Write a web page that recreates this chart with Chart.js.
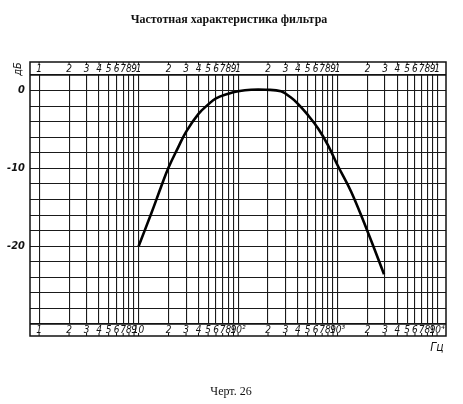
<!DOCTYPE html>
<html>
<head>
<meta charset="utf-8">
<script src="https://cdn.jsdelivr.net/npm/chart.js@4.4.1/dist/chart.umd.min.js"></script>
<style>
  body { margin: 0; background: #fff; }
  canvas { display: block; }
</style>
</head>
<body>
<canvas id="grafico" width="463" height="404"></canvas>
<script>
// частота, Гц
var freq = [10, 13.4, 16.8, 20, 25, 30, 40, 50, 60, 80, 100, 135, 190, 270, 340, 400, 500, 640, 800, 1000, 1370, 2030, 2930];
// уровень, дБ
var gain = [-20, -15.8, -12.4, -9.9, -7.3, -5.3, -3.0, -1.8, -1.0, -0.4, -0.1, 0.1, 0.1, -0.1, -0.9, -1.7, -3.1, -4.9, -7.0, -9.6, -13.0, -18.3, -23.6];

var xTicks = [1, 2, 3, 4, 5, 6, 7, 8, 9,
              10, 20, 30, 40, 50, 60, 70, 80, 90,
              100, 200, 300, 400, 500, 600, 700, 800, 900,
              1000, 2000, 3000, 4000, 5000, 6000, 7000, 8000, 9000,
              10000];
var bottomLabels = ["1", "2", "3", "4", "5", "6", "7", "8", "9",
                    "10", "2", "3", "4", "5", "6", "7", "8", "9",
                    "10²", "2", "3", "4", "5", "6", "7", "8", "9",
                    "10³", "2", "3", "4", "5", "6", "7", "8", "9",
                    "10⁴"];
var topLabels = ["1", "2", "3", "4", "5", "6", "7", "8", "9",
                 "1", "2", "3", "4", "5", "6", "7", "8", "9",
                 "1", "2", "3", "4", "5", "6", "7", "8", "9",
                 "1", "2", "3", "4", "5", "6", "7", "8", "9",
                 "1"];
var yLabelValues = [0, -10, -20];
var yLabelText = ["0", "-10", "-20"];

var tickFont = { family: "'Liberation Sans Narrow', 'DejaVu Sans Condensed', sans-serif", size: 10, style: "italic" };

function setTicks(scale) {
    scale.ticks = xTicks.map(function (v) { return { value: v }; });
}

// рамка, полосы с подписями и надписи
var ramka = {
    id: "ramka",
    afterDraw: function (chart) {
        var c = chart.ctx;
        var a = chart.chartArea;
        var x = chart.scales.x;
        var bandTop = a.top - 13;
        var bandBottom = a.bottom + 12;
        c.save();
        c.strokeStyle = "#111";
        c.lineWidth = 1.5;
        c.strokeRect(a.left, bandTop, a.right - a.left, bandBottom - bandTop);
        c.beginPath();
        c.moveTo(a.left, a.top); c.lineTo(a.right, a.top);
        c.moveTo(a.left, a.bottom); c.lineTo(a.right, a.bottom);
        c.stroke();
        c.lineWidth = 1;
        c.beginPath();
        xTicks.forEach(function (v) {
            var px = x.getPixelForValue(v);
            c.moveTo(px, bandTop); c.lineTo(px, bandTop + 3);
            c.moveTo(px, bandBottom); c.lineTo(px, bandBottom - 3);
        });
        c.stroke();

        c.fillStyle = "#111";
        c.textAlign = "center";
        c.textBaseline = "middle";
        c.font = "bold 12px 'Liberation Serif', serif";
        c.fillText("Частотная характеристика фильтра", 229, 20);
        c.font = "12px 'Liberation Serif', serif";
        c.fillText("Черт. 26", 231, 392);
        c.font = "italic 12px 'Liberation Sans Narrow', 'DejaVu Sans Condensed', sans-serif";
        c.fillText("Гц", a.right - 9, 348);
        c.save();
        c.translate(a.left - 12, bandTop + 7);
        c.rotate(-Math.PI / 2);
        c.font = "italic 11px 'Liberation Sans Narrow', 'DejaVu Sans Condensed', sans-serif";
        c.fillText("дБ", 0, 0);
        c.restore();
        c.restore();
    }
};

var ctx = document.getElementById("grafico");
var grafico = new Chart(ctx, {
    type: "line",
    data: {
        datasets: [{
            label: "АЧХ",
            data: freq.map(function (f, i) { return { x: f, y: gain[i] }; }),
            borderColor: "#000",
            borderWidth: 2.6,
            pointRadius: 0,
            tension: 0.4,
            fill: false
        }]
    },
    options: {
        responsive: false,
        animation: false,
        layout: { padding: { right: 17 } },
        plugins: {
            legend: { display: false },
            tooltip: { enabled: false }
        },
        scales: {
            x: {
                type: "logarithmic",
                position: "bottom",
                min: 0.81,
                max: 12300,
                afterBuildTicks: setTicks,
                afterFit: function (s) { s.height = 80; },
                border: { display: false },
                grid: { color: "#1a1a1a", lineWidth: 1.1, drawTicks: false },
                ticks: {
                    autoSkip: false,
                    maxRotation: 0,
                    padding: 0,
                    color: "#111",
                    font: tickFont,
                    callback: function (v, i) { return bottomLabels[i]; }
                }
            },
            x2: {
                type: "logarithmic",
                position: "top",
                min: 0.81,
                max: 12300,
                afterBuildTicks: setTicks,
                afterFit: function (s) { s.height = 75; },
                border: { display: false },
                grid: { display: false, drawTicks: false },
                ticks: {
                    autoSkip: false,
                    maxRotation: 0,
                    padding: 0,
                    color: "#111",
                    font: tickFont,
                    callback: function (v, i) { return topLabels[i]; }
                }
            },
            y: {
                type: "linear",
                min: -30,
                max: 2,
                afterFit: function (s) { s.width = 30; },
                border: { display: false },
                grid: { color: "#1a1a1a", lineWidth: 1.1, drawTicks: false },
                ticks: {
                    stepSize: 2,
                    autoSkip: false,
                    padding: 5,
                    color: "#111",
                    font: { family: tickFont.family, size: 11, style: "italic", weight: "bold" },
                    callback: function (v) {
                        var k = yLabelValues.indexOf(v);
                        return k >= 0 ? yLabelText[k] : "";
                    }
                }
            }
        }
    },
    plugins: [ramka]
});
</script>
</body>
</html>
